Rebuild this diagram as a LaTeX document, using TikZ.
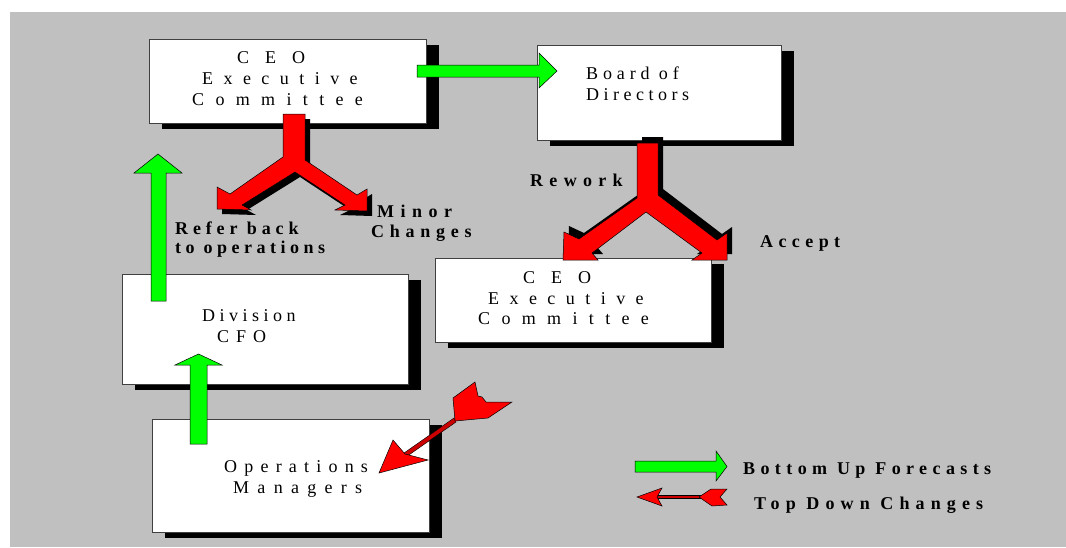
\documentclass[tikz,border=0pt]{standalone}
\usepackage{fontspec}
\setmainfont{Liberation Serif}
\usetikzlibrary{shadows}

% letter-spaced text: \spaced{amount}{text}
\newcommand\spaced[2]{{\addfontfeature{LetterSpace=#1}#2}}

\definecolor{panel}{RGB}{192,192,192}
\definecolor{upgreen}{RGB}{0,255,0}
\definecolor{downred}{RGB}{255,0,0}

% outlines of the red fork arrows (pixel-style coordinates, y downwards)
\def\forkone{(283,114) -- (305,114) -- (305,160) -- (357,195) -- (367,189) -- (367,211)
  -- (335,210) -- (345,205) -- (295,172) -- (242,205) -- (251,210) -- (217,209)
  -- (217,187) -- (230,194) -- (283,157) -- cycle}
\def\forktwo{(637,143) -- (658,143) -- (658,195) -- (717,240) -- (727,233) -- (727,260)
  -- (692,260) -- (702,253) -- (646,212) -- (592,253) -- (598,260) -- (563,260)
  -- (564,232) -- (579,239) -- (637,198) -- cycle}

\begin{document}
\begin{tikzpicture}[x=1pt,y=-1pt,
  orgbox/.style={draw=black!75, line width=0.8pt, fill=white, inner sep=0pt,
    anchor=north west,
    drop shadow={shadow xshift=13pt, shadow yshift=-6pt, fill=black, opacity=1}},
  boxtext/.style={inner sep=0pt, anchor=base west, text=black,
    font=\fontsize{18}{21}\selectfont},
  tagtext/.style={boxtext, font=\fontsize{18}{21}\selectfont\bfseries},
  upflow/.style={fill=upgreen, draw=black, line width=0.5pt, line join=miter},
  downflow/.style={fill=downred, draw=black, line width=0.5pt, line join=miter},
  dartshaft/.style={fill=downred!80!black, draw=black, line width=0.4pt}]

% page and grey panel
\useasboundingbox (0,0) rectangle (1066,547);
\fill[white] (0,0) rectangle (1066,547);
\fill[panel] (10,12) rectangle (1066,547);

% organisation boxes
\node[orgbox, minimum width=277pt, minimum height=84pt]  (ceoA)  at (149,39)  {};
\node[orgbox, minimum width=244pt, minimum height=95pt]  (board) at (537,45)  {};
\node[orgbox, minimum width=276pt, minimum height=84pt]  (ceoB)  at (435,258) {};
\node[orgbox, minimum width=286pt, minimum height=110pt] (cfo)   at (122,274) {};
\node[orgbox, minimum width=277pt, minimum height=113pt] (ops)   at (152,419) {};

% bottom-up forecasts (green block arrows)
\draw[upflow] (417,65) -- (539,65) -- (539,53) -- (557,71) -- (539,88) -- (539,77) -- (417,77) -- cycle;
\draw[upflow] (151,301) -- (151,173) -- (134,173) -- (158,154) -- (182,173) -- (166,173) -- (166,301) -- cycle;
\draw[upflow] (190,444) -- (190,365) -- (175,365) -- (198.5,354) -- (222,365) -- (207,365) -- (207,444) -- cycle;

% top-down changes (red fork arrows with shadows)
\fill[black, shift={(5,5)}] \forkone;
\draw[downflow] \forkone;
\fill[black, shift={(5,-6)}] \forktwo;
\draw[downflow] \forktwo;

% dart pointing at the operations managers
\draw[dartshaft] (404,453) -- (454,418) -- (456,422) -- (406,457) -- cycle;
\draw[downflow] (379,473) -- (393,440) -- (405,454) -- (428,460) -- cycle;
\draw[downflow] (455,421) -- (453,398) -- (475,382) -- (478,396) -- (482,397)
  -- (486,402) -- (512,402) -- (488,418) -- cycle;

% box texts
\node[boxtext] (ceoA1) at (237,63)  {\spaced{89}{CEO}};
\node[boxtext] (ceoA2) at (202,84)  {\spaced{58}{Executive}};
\node[boxtext] (ceoA3) at (192,105) {\spaced{63}{Committee}};

\node[boxtext] (board1) at (586,79)  {\spaced{27}{Board of}};
\node[boxtext] (board2) at (586,100) {\spaced{25}{Directors}};

\node[boxtext] (ceoB1) at (523,283) {\spaced{89}{CEO}};
\node[boxtext] (ceoB2) at (488,304) {\spaced{58}{Executive}};
\node[boxtext] (ceoB3) at (478,324) {\spaced{63}{Committee}};

\node[boxtext] (cfo1) at (202,321) {\spaced{25}{Division}};
\node[boxtext] (cfo2) at (217,342) {\spaced{39}{CFO}};

\node[boxtext] (ops1) at (224,472) {\spaced{40}{Operations}};
\node[boxtext] (ops2) at (233,493) {\spaced{46}{Managers}};

% arrow labels
\node[tagtext] (refer1)  at (175,234) {\spaced{27}{Refer back}};
\node[tagtext] (refer2)  at (175,253) {\spaced{25}{to operations}};
\node[tagtext] (minor1)  at (377,217) {\spaced{36}{Minor}};
\node[tagtext] (minor2)  at (371,237) {\spaced{32}{Changes}};
\node[tagtext] (rework)  at (530,186) {\spaced{35}{Rework}};
\node[tagtext] (accept)  at (760,247) {\spaced{30}{Accept}};

% legend
\draw[upflow] (635,461) -- (716,461) -- (716,451) -- (727,466.5) -- (716,481) -- (716,472) -- (635,472) -- cycle;
\draw[dartshaft] (656,495.5) rectangle (701,498.5);
\draw[downflow] (637,497) -- (662,488) -- (657,497) -- (662,506) -- cycle;
\draw[downflow] (699,497) -- (711,489) -- (727,489) -- (720,497) -- (727,505) -- (712,506) -- cycle;
\node[tagtext] (legUp)   at (743,474) {\spaced{30}{Bottom Up Forecasts}};
\node[tagtext] (legDown) at (754,509) {\spaced{34}{Top Down Changes}};
\end{tikzpicture}
\end{document}
